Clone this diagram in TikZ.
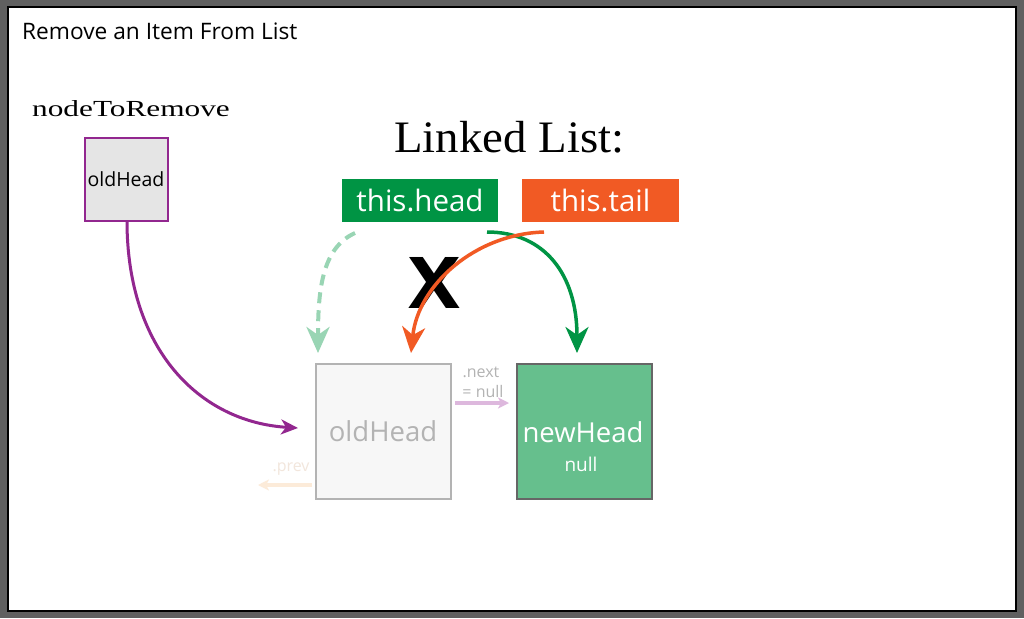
\documentclass[tikz,border=0pt]{standalone}
\usepackage{fontspec}
\setmainfont{Open Sans}
\newfontfamily\serifwide[FakeStretch=1.36]{Liberation Serif}
\newfontfamily\serifll[FakeStretch=1.04]{Liberation Serif}
\newfontfamily\xsans{DejaVu Sans Bold}
\usetikzlibrary{arrows.meta}
\definecolor{framegray}{HTML}{606060}
\definecolor{purp}{HTML}{92278F}
\definecolor{hgreen}{HTML}{009444}
\definecolor{torange}{HTML}{F15A24}
\definecolor{lgreen}{HTML}{99D5B4}
\definecolor{nhfill}{HTML}{66BF8D}
\definecolor{ghost}{HTML}{B3B3B3}
\definecolor{pinkarr}{HTML}{DDB8DD}
\definecolor{peach}{HTML}{FCEBD9}
\definecolor{peachtxt}{HTML}{F2E6DC}
\begin{document}
\begin{tikzpicture}[x=1pt,y=-1pt,
  tip/.style={-{Stealth[length=26pt,width=23pt,inset=8pt]}},
  label/.style={inner sep=0pt,anchor=base west},
  ptrbox/.style={inner sep=0pt,minimum height=43pt,text=white,font=\fontsize{29.5}{32}\selectfont},
  listbox/.style={inner sep=0pt,minimum width=135pt,minimum height=135pt,line width=2pt}
]
\useasboundingbox (0,0) rectangle (1024,618);
\fill[framegray] (0,0) rectangle (1024,618);
\draw[fill=white,line width=1.5pt] (8,7) rectangle (1016,611);

\node[label,font=\fontsize{22.7}{25}\selectfont] (title) at (22,40) {Remove an Item From List};
\node[label,font=\serifwide\fontsize{23}{26}\selectfont] (ntr) at (32,116) {nodeToRemove};
\node[draw=purp,fill=black!10,line width=2pt,minimum width=83pt,minimum height=83pt,inner sep=0pt,font=\fontsize{19.5}{22}\selectfont] (small) at (126,179) {oldHead};

\node[label,font=\serifll\fontsize{45}{50}\selectfont] (ll) at (394,152) {Linked List:};

\node[ptrbox,fill=hgreen,minimum width=156pt] (head) at (420,200.5) {this.head};
\node[ptrbox,fill=torange,minimum width=157pt] (tail) at (600.5,200.5) {this.tail};

\node[listbox,draw=ghost,fill=black!3,text=ghost,font=\fontsize{27.5}{30}\selectfont] (old) at (383,431.5) {oldHead};
\node[listbox,draw=black!60,fill=nhfill,text=white] (new) at (584,431) {};
\node[text=white,inner sep=0pt,font=\fontsize{27.5}{30}\selectfont] (newt) at (583,432) {newHead};
\node[text=white,inner sep=0pt,font=\fontsize{19}{22}\selectfont] (null) at (581,464) {null};

\node[text=ghost,inner sep=0pt,font=\fontsize{16}{18}\selectfont] (nx) at (481,372) {.next};
\node[text=ghost,inner sep=0pt,font=\fontsize{16}{18}\selectfont] (nn) at (483,391) {= null};
\node[text=peachtxt,inner sep=0pt,font=\fontsize{16}{18}\selectfont] (pv) at (291,469) {.prev};

\node[inner sep=0pt,font=\xsans\fontsize{70}{70}\selectfont] (x) at (434,283) {X};

\coordinate (hs) at (355,233);
\coordinate (he) at (318,353);
\coordinate (ts) at (544,232);
\coordinate (te) at (411,353);
\coordinate (gs) at (487,232);
\coordinate (ge) at (577,353);
\coordinate (ps) at (127,221);
\coordinate (pe) at (298,428);
\coordinate (ns) at (455,403);
\coordinate (ne) at (509,403);
\coordinate (vs) at (312,485);
\coordinate (ve) at (258,485);

\draw[tip,lgreen,line width=4pt,dash pattern=on 11pt off 7pt] (hs) .. controls (322,248) and (318,290) .. (he);
\draw[tip,hgreen,line width=3.5pt] (gs) .. controls (545,232) and (577,275) .. (ge);
\draw[tip,torange,line width=3.5pt] (ts) .. controls (475,234) and (418,285) .. (te);
\draw[-{Stealth[length=17pt,width=15pt,inset=5pt]},purp,line width=3pt] (ps) .. controls (127,350) and (200,422) .. (pe);
\draw[-{Stealth[length=11pt,width=11pt,inset=3pt]},pinkarr,line width=4pt] (ns) -- (ne);
\draw[-{Stealth[length=11pt,width=11pt,inset=3pt]},peach,line width=4pt] (vs) -- (ve);
\end{tikzpicture}
\end{document}
